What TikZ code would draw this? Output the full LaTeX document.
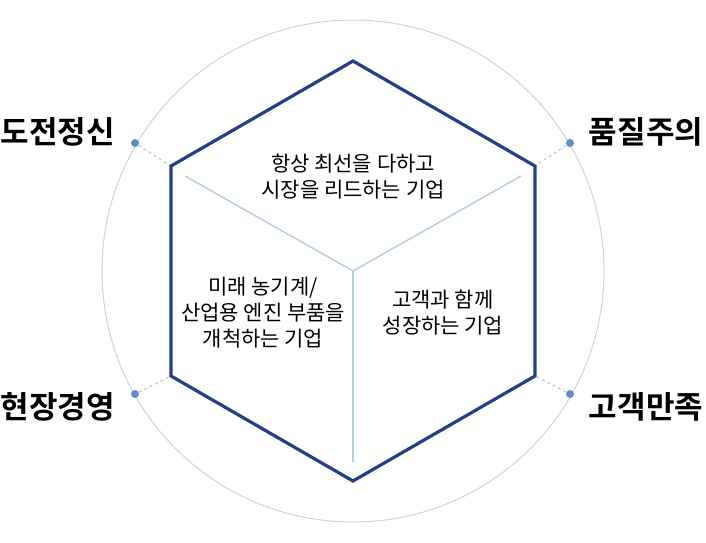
\documentclass[tikz,border=0pt]{standalone}
\usepackage{fontspec}
\setmainfont{Noto Sans CJK KR}
\newfontfamily\boldkr{Noto Sans CJK KR Bold}
\definecolor{hexblue}{HTML}{233F8A}
\definecolor{paleblue}{HTML}{B8CCE0}
\definecolor{dotblue}{HTML}{5B8FCB}

\begin{document}
\begin{tikzpicture}[x=1pt, y=-1pt, thick,
  hexline/.style={draw=hexblue, line width=3.2pt, line join=miter},
  inner line/.style={draw=paleblue, line width=1.5pt},
  dot line/.style={draw=gray!50, dashed, line width=1pt},
  dot/.style={circle, fill=dotblue, inner sep=0pt, minimum size=8pt},
  value/.style={font=\boldkr\fontsize{31}{34}\selectfont},
  slogan/.style={align=center, font=\fontsize{21}{26}\selectfont}]
\useasboundingbox (0,0) rectangle (706,542);
\draw[gray!35, line width=1pt] (353,271) circle (251);

\coordinate (c) at (353,271);
\coordinate (t) at (353,61);
\coordinate (ul) at (171,166);
\coordinate (ll) at (171,376);
\coordinate (b) at (353,481);
\coordinate (lr) at (535,376);
\coordinate (ur) at (535,166);

\draw[inner line] (c) -- (185,176);
\draw[inner line] (c) -- (521,176);
\draw[inner line] (c) -- (353,462);

\node[dot] (d1) at (135,143) {};
\node[dot] (d2) at (570,143) {};
\node[dot] (d3) at (135,394) {};
\node[dot] (d4) at (570,394) {};
\draw[dot line] (d1) -- (ul);
\draw[dot line] (d2) -- (ur);
\draw[dot line] (d3) -- (ll);
\draw[dot line] (d4) -- (lr);

\draw[hexline] (t) -- (ur) -- (lr) -- (b) -- (ll) -- (ul) -- cycle;

\node[value] (v1) at (58,132) {도전정신};
\node[value] (v2) at (646,132) {품질주의};
\node[value] (v3) at (58,407) {현장경영};
\node[value] (v4) at (646,407) {고객만족};

\node[slogan] (s1) at (353,177) {항상 최선을 다하고\\시장을 리드하는 기업};
\node[slogan] (s2) at (263,313) {미래 농기계/\\산업용 엔진 부품을\\개척하는 기업};
\node[slogan] (s3) at (443,313) {고객과 함께\\성장하는 기업};
\end{tikzpicture}
\end{document}
